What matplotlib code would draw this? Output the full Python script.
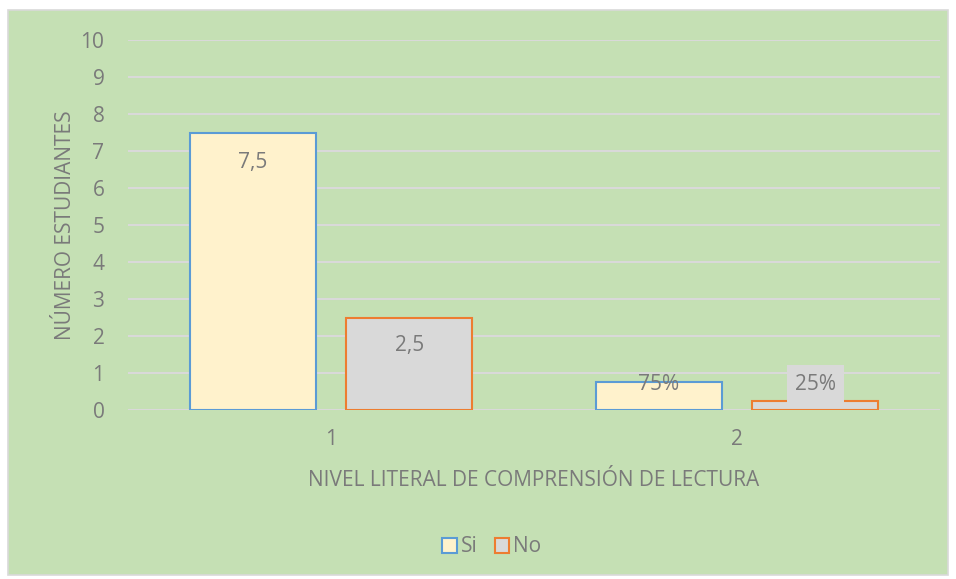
import matplotlib
matplotlib.use("Agg")
import matplotlib.pyplot as plt
from matplotlib.patches import Rectangle, Patch

#data
categories = [1, 2]
si_values = [7.5, 0.75]
no_values = [2.5, 0.25]
si_labels = ["7,5", "75%"]
no_labels = ["2,5", "25%"]
y_ticks = list(range(0, 11))

green = "#C5E0B4"
grey_txt = "#7A7A7A"
fs = 15
plt.rcParams['font.family'] = ['Open Sans', 'DejaVu Sans']

fig = plt.figure(figsize=(9.56, 5.79), dpi=100, facecolor="white")
#background panel with border
fig.patches.append(Rectangle((8/956, 1-575/579), 940/956, 565/579, transform=fig.transFigure,
                             facecolor=green, edgecolor="#D9D9D9", linewidth=1.2, zorder=-10))

ax = fig.add_axes([128/956, 1-410/579, 812/956, 370/579])
ax.patch.set_alpha(0)

w = 0.31
off = 0.193
xs = [c - off for c in categories]
xn = [c + off for c in categories]
ax.bar(xs, si_values, w, color="#FFF2CC", edgecolor="#5B9BD5", linewidth=1.5, zorder=3, label="Si")
ax.bar(xn, no_values, w, color="#D9D9D9", edgecolor="#ED7D31", linewidth=1.5, zorder=3, label="No")

#data labels
ax.text(xs[0], 6.7, si_labels[0], ha="center", va="center", fontsize=fs, color=grey_txt, zorder=5)
ax.text(xn[0], 1.73, no_labels[0], ha="center", va="center", fontsize=fs, color=grey_txt, zorder=5)
ax.text(xs[1], 0.68, si_labels[1], ha="center", va="center", fontsize=fs, color=grey_txt, zorder=5)
ax.text(xn[1], 0.7, no_labels[1], ha="center", va="center", fontsize=fs, color=grey_txt, zorder=5,
        bbox=dict(boxstyle="square,pad=0.4", facecolor="#D9D9D9", edgecolor="none"))

ax.set_xlim(0.5, 2.5)
ax.set_ylim(0, 10)
ax.set_yticks(y_ticks)
ax.set_xticks(categories)
ax.yaxis.grid(True, color="#D9D9D9", linewidth=1.5, zorder=0)
ax.set_axisbelow(True)
for s in ax.spines.values():
    s.set_visible(False)
ax.tick_params(length=0, labelsize=fs, colors=grey_txt, pad=17)
ax.tick_params(axis="x", pad=14)

ax.set_ylabel("NÚMERO ESTUDIANTES", fontsize=fs, color=grey_txt, labelpad=3)
ax.set_xlabel("NIVEL LITERAL DE COMPRENSIÓN DE LECTURA", fontsize=fs, color=grey_txt, labelpad=14)

handles = [Patch(facecolor="#FFF2CC", edgecolor="#5B9BD5", linewidth=1.5),
           Patch(facecolor="#D9D9D9", edgecolor="#ED7D31", linewidth=1.5)]
fig.legend(handles, ["Si", "No"], loc="center", bbox_to_anchor=(492/956, 1-547/579), ncol=2,
           frameon=False, fontsize=fs, labelcolor=grey_txt, handlelength=0.7, handleheight=0.7,
           handletextpad=0.2, columnspacing=0.8)

fig.savefig("out.png", dpi=100, facecolor="white")
